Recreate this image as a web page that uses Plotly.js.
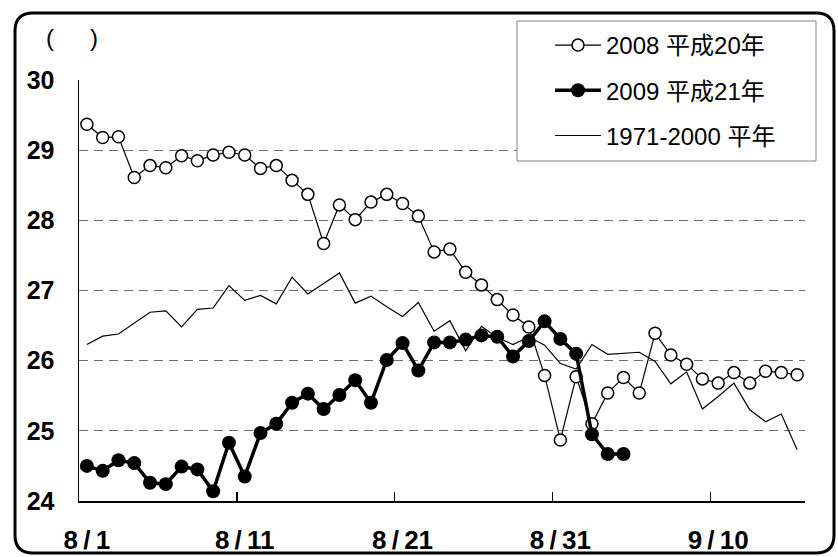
<!DOCTYPE html>
<html>
<head>
<meta charset="utf-8">
<script src="https://cdn.plot.ly/plotly-3.0.1.min.js"></script>
<style>
  html, body { margin: 0; padding: 0; background: #fff; }
  #chart { width: 838px; height: 557px; }
</style>
</head>
<body>
<div id="chart"></div>
<script>
// ---- data ----
const dates = ['8/1','8/2','8/3','8/4','8/5','8/6','8/7','8/8','8/9','8/10',
  '8/11','8/12','8/13','8/14','8/15','8/16','8/17','8/18','8/19','8/20',
  '8/21','8/22','8/23','8/24','8/25','8/26','8/27','8/28','8/29','8/30',
  '8/31','9/1','9/2','9/3','9/4','9/5','9/6','9/7','9/8','9/9',
  '9/10','9/11','9/12','9/13','9/14','9/15'];

const temp2008 = [29.37, 29.18, 29.19, 28.61, 28.78, 28.75, 28.92, 28.85, 28.93, 28.97,
  28.93, 28.74, 28.78, 28.57, 28.37, 27.67, 28.22, 28.01, 28.26, 28.37,
  28.24, 28.06, 27.55, 27.59, 27.26, 27.08, 26.87, 26.65, 26.48, 25.79,
  24.87, 25.77, 25.10, 25.54, 25.76, 25.54, 26.39, 26.08, 25.95, 25.74,
  25.68, 25.83, 25.68, 25.85, 25.83, 25.80];

const temp2009 = [24.50, 24.43, 24.58, 24.54, 24.26, 24.24, 24.49, 24.45, 24.14, 24.83,
  24.35, 24.97, 25.10, 25.40, 25.53, 25.31, 25.51, 25.72, 25.40, 26.01,
  26.25, 25.86, 26.26, 26.26, 26.30, 26.36, 26.34, 26.06, 26.28, 26.56,
  26.31, 26.10, 24.95, 24.67, 24.67];

const tempNormal = [26.23, 26.35, 26.38, 26.53, 26.69, 26.71, 26.48, 26.73, 26.75, 27.07,
  26.86, 26.93, 26.81, 27.19, 26.95, 27.10, 27.25, 26.82, 26.92, 26.77,
  26.63, 26.83, 26.42, 26.57, 26.14, 26.49, 26.33, 26.23, 26.34, 26.22,
  25.96, 25.88, 26.23, 26.09, 26.10, 26.12, 25.99, 25.67, 25.84, 25.31,
  25.49, 25.68, 25.30, 25.13, 25.24, 24.73];

const seriesNames = ['2008 平成20年', '2009 平成21年', '1971-2000 平年'];
const xTickDates = ['8/1', '8/11', '8/21', '8/31', '9/10'];
const yTicks = [24, 25, 26, 27, 28, 29, 30];
const unitLabel = '(\u2003\u2002)';

// ---- layout geometry (pixels) ----
const W = 838, H = 557;
const M = { l: 79, r: 33, t: 80, b: 56 };
const PW = W - M.l - M.r, PH = H - M.t - M.b;
const px = v => (v - M.l) / PW;
const py = v => (H - M.b - v) / PH;

const FONT = 'Liberation Sans, Arial, Noto Sans CJK JP, sans-serif';

function roundRectPath(x0, y0, x1, y1, r) {
  const X = px, Y = py;
  return 'M' + X(x0 + r) + ',' + Y(y0) +
    ' L' + X(x1 - r) + ',' + Y(y0) +
    ' Q' + X(x1) + ',' + Y(y0) + ' ' + X(x1) + ',' + Y(y0 + r) +
    ' L' + X(x1) + ',' + Y(y1 - r) +
    ' Q' + X(x1) + ',' + Y(y1) + ' ' + X(x1 - r) + ',' + Y(y1) +
    ' L' + X(x0 + r) + ',' + Y(y1) +
    ' Q' + X(x0) + ',' + Y(y1) + ' ' + X(x0) + ',' + Y(y1 - r) +
    ' L' + X(x0) + ',' + Y(y0 + r) +
    ' Q' + X(x0) + ',' + Y(y0) + ' ' + X(x0 + r) + ',' + Y(y0) + ' Z';
}

// category boundaries before each labelled date (for the tick marks)
const boundaryTicks = xTickDates.slice(1).map(d => dates.indexOf(d) - 0.5);

const traces = [
  {
    x: dates.slice(0, temp2008.length), y: temp2008, name: seriesNames[0],
    type: 'scatter', mode: 'lines+markers', legendgroup: 'a',
    line: { color: '#000', width: 1.2 },
    marker: { symbol: 'circle', size: 12, color: '#fff', line: { color: '#000', width: 1.5 } }
  },
  {
    x: dates.slice(0, temp2009.length), y: temp2009, name: seriesNames[1],
    type: 'scatter', mode: 'lines+markers', legendgroup: 'b',
    line: { color: '#000', width: 3.5 },
    marker: { symbol: 'circle', size: 14, color: '#000', line: { color: '#000', width: 0 } }
  },
  {
    x: dates.slice(0, tempNormal.length), y: tempNormal, name: seriesNames[2],
    type: 'scatter', mode: 'lines', legendgroup: 'c',
    line: { color: '#000', width: 1.2 }
  },
  {
    // empty helper trace so the tick-mark axis (x2) is drawn
    x: [], y: [], xaxis: 'x2', yaxis: 'y', type: 'scatter', mode: 'lines',
    showlegend: false, hoverinfo: 'skip'
  }
];

const layout = {
  width: W, height: H,
  margin: M,
  paper_bgcolor: '#fff', plot_bgcolor: '#fff',
  font: { family: FONT, color: '#000' },
  showlegend: true,
  legend: {
    x: px(550), y: py(23), xanchor: 'left', yanchor: 'top',
    bgcolor: 'rgba(0,0,0,0)', borderwidth: 0,
    font: { family: FONT, size: 24, color: '#000' },
    traceorder: 'grouped', tracegroupgap: 11,
    itemwidth: 46
  },
  xaxis: {
    type: 'category', categoryorder: 'array', categoryarray: dates,
    range: [-0.5, dates.length - 0.5],
    tickmode: 'array', tickvals: xTickDates,
    ticktext: xTickDates.map(s => s.replace('/', '\u2009/\u2009')),
    ticks: '',
    showgrid: false, zeroline: false,
    showline: true, linecolor: '#000', linewidth: 1.5,
    tickfont: { family: FONT, size: 26, color: '#000', weight: 700 },
    ticklabelstandoff: 15,
    fixedrange: true
  },
  xaxis2: {
    overlaying: 'x', anchor: 'y', side: 'bottom', type: 'linear',
    range: [-0.5, dates.length - 0.5],
    tickmode: 'array', tickvals: boundaryTicks,
    ticks: 'inside', ticklen: 9, tickwidth: 1.5, tickcolor: '#000',
    showticklabels: false, showgrid: false, zeroline: false, showline: false,
    fixedrange: true
  },
  yaxis: {
    range: [24, 30], tickmode: 'array', tickvals: yTicks,
    ticks: '', showgrid: true, gridcolor: '#6e6e6e', gridwidth: 1, griddash: '9px,6px',
    zeroline: false, showline: true, linecolor: '#000', linewidth: 1.5,
    tickfont: { family: FONT, size: 25, color: '#000', weight: 700 },
    ticklabelstandoff: 18,
    fixedrange: true
  },
  shapes: [
    { type: 'path', xref: 'paper', yref: 'paper', path: roundRectPath(15, 13, 834, 553, 18),
      line: { color: '#000', width: 3 }, fillcolor: 'rgba(0,0,0,0)', layer: 'above' },
    { type: 'rect', xref: 'paper', yref: 'paper', x0: px(517), x1: px(816), y0: py(21), y1: py(161),
      line: { color: '#808080', width: 1 }, fillcolor: '#fff', layer: 'above' }
  ],
  annotations: [
    { text: unitLabel, xref: 'paper', yref: 'paper', x: px(72), y: py(38),
      xanchor: 'center', yanchor: 'middle', showarrow: false,
      font: { family: FONT, size: 24, color: '#000' } }
  ]
};

Plotly.newPlot('chart', traces, layout, { displayModeBar: false, staticPlot: true });
</script>
</body>
</html>
